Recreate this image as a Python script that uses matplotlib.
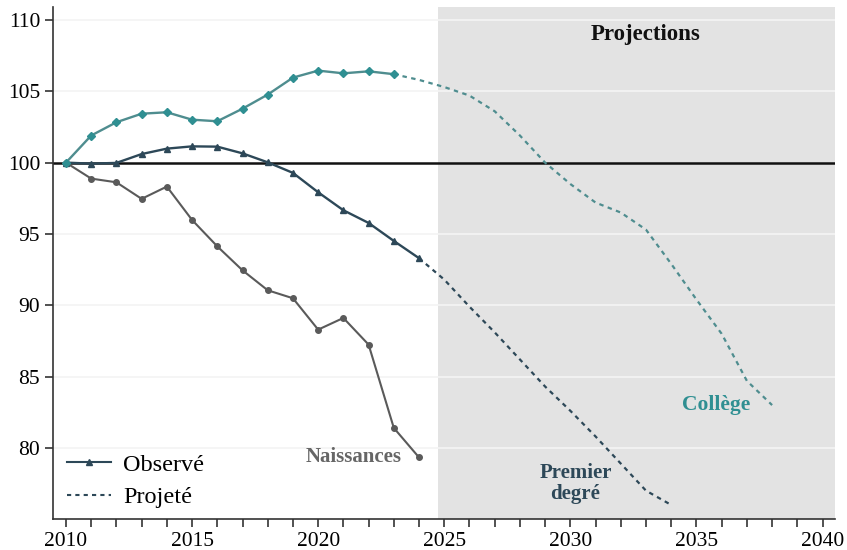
import numpy as np
import matplotlib.pyplot as plt
from matplotlib.lines import Line2D
from matplotlib.ticker import MultipleLocator

plt.rcParams['font.family'] = ['Liberation Serif', 'DejaVu Serif']

# observed series (index 2010 = 100)
years_college = list(range(2010, 2024))
college = [100, 101.9, 102.83, 103.43, 103.53, 103.01, 102.9, 103.78, 104.77,
           105.96, 106.45, 106.26, 106.4, 106.2]

years_premier = list(range(2010, 2025))
premier = [100, 99.93, 99.98, 100.6, 100.98, 101.14, 101.12, 100.65, 100.02,
           99.28, 97.92, 96.66, 95.77, 94.51, 93.3]

years_naiss = list(range(2010, 2025))
naissances = [100, 98.88, 98.62, 97.46, 98.32, 95.98, 94.13, 92.45, 91.05,
              90.49, 88.29, 89.11, 87.24, 81.4, 79.33]

# projections
years_college_proj = list(range(2023, 2039))
college_proj = [106.2, 105.8, 105.3, 104.7, 103.6, 101.9, 100.0, 98.5, 97.2,
                96.5, 95.3, 92.9, 90.4, 88.0, 84.7, 83.0]

years_premier_proj = list(range(2024, 2035))
premier_proj = [93.3, 91.8, 89.9, 88.1, 86.2, 84.3, 82.6, 80.8, 78.9, 77.0, 76.0]

y_ticks = [80, 85, 90, 95, 100, 105, 110]

c_college = '#2f8f92'
c_college_line = '#4f8d8f'
c_premier = '#2d4858'
c_naiss = '#5a5a5a'

fig = plt.figure(figsize=(8.47, 5.5), dpi=100)
ax = fig.add_axes([0.063, 0.056, 0.923, 0.931])

ax.axvspan(2024.75, 2040.5, color='#e3e3e3', zorder=0, lw=0)
for yv in y_ticks:
    if yv != 100:
        ax.axhline(yv, color='#f4f4f4', lw=1.2, zorder=1)
ax.axhline(100, color='#111111', lw=1.8, zorder=2)

ax.plot(years_naiss, naissances, color=c_naiss, lw=1.5, marker='o', ms=4, zorder=3)
ax.plot(years_premier, premier, color=c_premier, lw=1.7, marker='^', ms=5, zorder=4)
ax.plot(years_college, college, color=c_college_line, lw=1.7, marker='D', ms=4.5,
        mfc=c_college, mec=c_college, zorder=5)

ax.plot(years_college_proj, college_proj, color=c_college_line, lw=1.6,
        linestyle=(0, (2, 2)), zorder=3)
ax.plot(years_premier_proj, premier_proj, color=c_premier, lw=1.6,
        linestyle=(0, (2, 2)), zorder=3)

ax.text(2033.0, 108.95, 'Projections', fontsize=16.5, fontweight='bold',
        ha='center', va='center', color='#111111')
ax.text(2021.4, 79.35, 'Naissances', fontsize=15, fontweight='bold',
        ha='center', va='center', color='#666666')
ax.text(2035.8, 83.0, 'Collège', fontsize=15.5, fontweight='bold',
        ha='center', va='center', color=c_college)
ax.text(2030.2, 77.5, 'Premier\ndegré', fontsize=15, fontweight='bold',
        ha='center', va='center', color=c_premier, linespacing=1.1)

handles = [Line2D([], [], color=c_premier, lw=1.5, marker='^', ms=4),
           Line2D([], [], color=c_premier, lw=1.5, linestyle=(0, (2, 2)))]
ax.legend(handles, ['Observé', 'Projeté'], loc='lower left', frameon=False,
          fontsize=17.5, bbox_to_anchor=(-0.001, -0.007), handlelength=1.8,
          handletextpad=0.5, labelspacing=0.42, borderaxespad=0.2)

ax.set_xlim(2009.5, 2040.5)
ax.set_ylim(75, 110.9)
ax.set_yticks(y_ticks)
ax.xaxis.set_major_locator(MultipleLocator(5))
ax.xaxis.set_minor_locator(MultipleLocator(1))
ax.tick_params(axis='both', which='both', direction='out', length=6,
               width=1.2, color='#333333', labelsize=15.5)

for s in ['top', 'right']:
    ax.spines[s].set_visible(False)
for s in ['left', 'bottom']:
    ax.spines[s].set_color('#333333')
    ax.spines[s].set_linewidth(1.2)

fig.savefig('out.png', dpi=100)
